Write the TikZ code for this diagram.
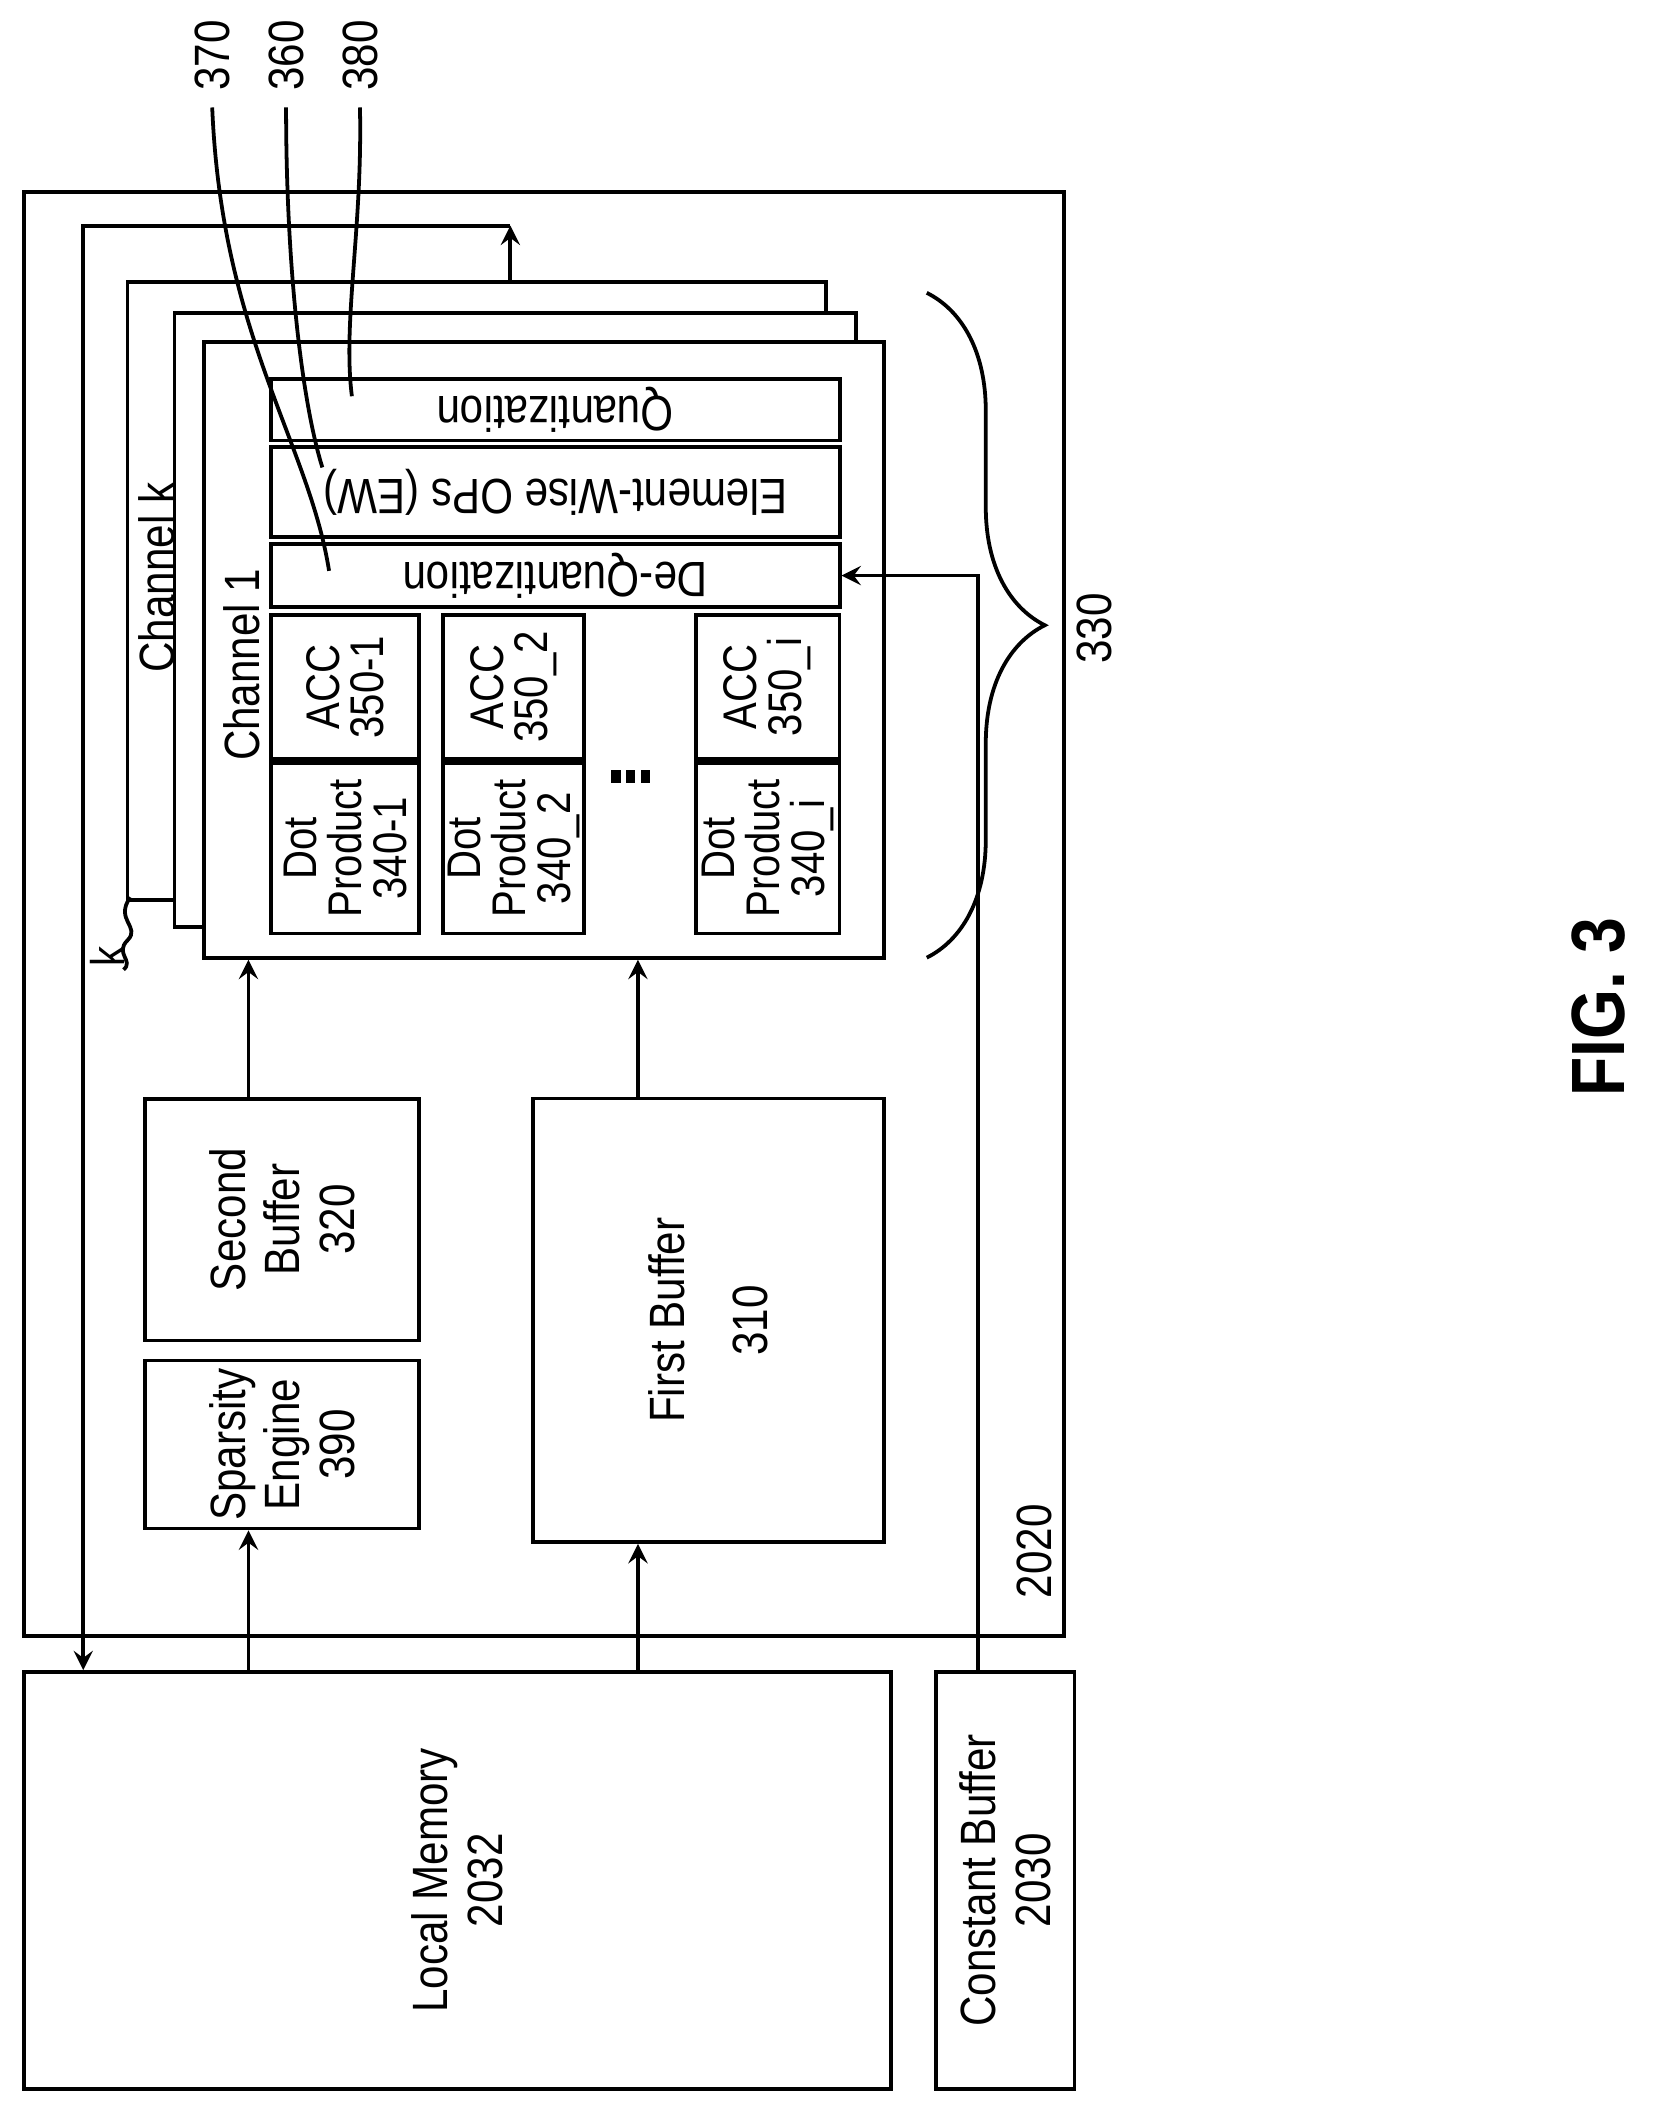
\documentclass[tikz,border=0pt]{standalone}
\usepackage{fontspec}
\setmainfont{Liberation Sans}[FakeStretch=0.85]
\usetikzlibrary{positioning, decorations.pathreplacing}

\tikzset{
  box/.style={draw, thick, fill=white, inner sep=0pt},
  lbl/.style={rotate=90, align=center, font=\fontsize{10.5}{11.5}\selectfont},
  sml/.style={rotate=90, align=center, font=\fontsize{10}{9.5}\selectfont},
  inv/.style={rotate=180, align=center, font=\fontsize{10.5}{12}\selectfont},
  arr/.style={thick, -stealth},
}

\begin{document}
\begin{tikzpicture}[x=0.01cm, y=-0.01cm]
	\useasboundingbox (0,0) rectangle (1230,1568);
	% Outer boxes
	\node[box, minimum width=7.74cm, minimum height=10.75cm] (acc) at (405,680.5) {};
	\node[lbl] (n2020) at (770,1155) {2020};
	\node[box, minimum width=6.45cm, minimum height=3.10cm] (lm) at (340.5,1400) {};
	\node[lbl] (lmt) at (lm) {Local Memory\\2032};
	\node[box, minimum width=1.03cm, minimum height=3.10cm] (cb) at (748.5,1400) {};
	\node[lbl] (cbt) at (cb) {Constant Buffer\\2030};
	% Buffers
	\node[box, minimum width=2.04cm, minimum height=1.25cm] (se) at (210,1075.5) {};
	\node[lbl] at (se) {Sparsity\\Engine\\390};
	\node[box, minimum width=2.04cm, minimum height=1.80cm] (sb) at (210,908) {};
	\node[lbl] at (sb) {Second\\Buffer\\320};
	\node[box, minimum width=2.61cm, minimum height=3.30cm] (fb) at (527.5,983) {};
	\node[lbl] at (fb) {First Buffer\\[6pt]310};
	% Channels
	\node[box, minimum width=5.20cm, minimum height=4.60cm] (chk) at (355,440) {};
	\node[box, minimum width=5.07cm, minimum height=4.57cm] (ch2) at (383.5,461.5) {};
	\node[box, minimum width=5.06cm, minimum height=4.58cm] (ch1) at (405,484) {};
	\node[lbl] at (117,430) {Channel k};
	\node[lbl] at (180,495) {Channel 1};
	% Post-processing
	\node[box, minimum width=4.23cm, minimum height=0.46cm] (q) at (413.5,305) {};
	\node[inv] at (q) {Quantization};
	\node[box, minimum width=4.23cm, minimum height=0.67cm] (ew) at (413.5,366.5) {};
	\node[inv] at (ew) {Element-Wise OPs (EW)};
	\node[box, minimum width=4.23cm, minimum height=0.47cm] (dq) at (413.5,428.5) {};
	\node[inv] at (dq) {De-Quantization};
	% Dot product / ACC rows
	\foreach \n/\x/\w/\s in {1/257/1.10/-1, 2/382.5/1.05/\_2, i/571.5/1.07/\_i} {
		\node[box, minimum width=\w cm, minimum height=1.07cm] (acc\n) at (\x,511.5) {};
		\node[sml] at (acc\n) {ACC\\350\s};
		\node[box, minimum width=\w cm, minimum height=1.27cm] (dp\n) at (\x,631.5) {};
		\node[sml] at (dp\n) {Dot\\Product\\340\s};
	}
	\foreach \x in {455,466,477}
		\fill (\x,573) rectangle +(7,10);
	% Arrows
	\draw[arr] (lm.north -| 185,0) -- (se.south -| 185,0);
	\draw[arr] (lm.north -| 475,0) -- (fb.south -| 475,0);
	\draw[arr] (sb.north -| 185,0) -- (ch1.south -| 185,0);
	\draw[arr] (fb.north -| 475,0) -- (ch1.south -| 475,0);
	\draw[arr] (cb.north -| 728,0) |- (dq.east);
	\coordinate (top) at (380,168);
	\draw[arr] (chk.north -| top) -- (top);
	\draw[arr] (top) -| (lm.north -| 62,0);
	% Braces and leaders
	\draw[thick, decorate, decoration={brace, amplitude=25pt}] (690,218) -- (690,713);
	\node[lbl] (n330) at (815,468) {330};
	\draw[thick] (97,668) .. controls (85,685) and (105,690) .. (95,700) .. controls (85,710) and (100,715) .. (92,722);
	\node[font=\fontsize{10}{10}\selectfont, rotate=90] (k) at (80,712) {k};
	\node[lbl, anchor=west] (n370) at (158,80) {370};
	\node[lbl, anchor=west] (n360) at (213,80) {360};
	\node[lbl, anchor=west] (n380) at (268,80) {380};
	\draw[thick] (n370.west) .. controls (165,250) and (230,330) .. (245,425);
	\draw[thick] (n360.west) .. controls (213,200) and (225,300) .. (240,348);
	\draw[thick] (n380.west) .. controls (270,170) and (255,240) .. (262,295);
	% Figure label
	\node[rotate=90, font=\fontsize{16}{18}\selectfont\bfseries] (fig) at (1190,750) {FIG. 3};
\end{tikzpicture}
\end{document}
